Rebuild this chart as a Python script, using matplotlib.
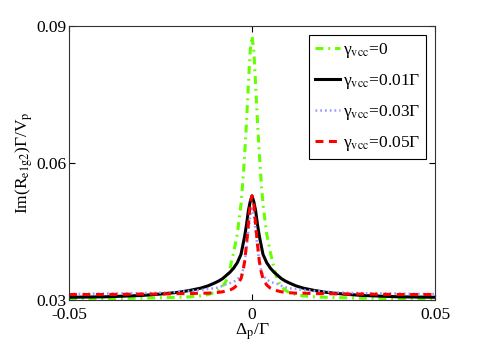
import numpy as np
import matplotlib
matplotlib.use('Agg')
import matplotlib.pyplot as plt

plt.rcParams['font.family'] = ['Liberation Serif', 'DejaVu Serif']
plt.rcParams['mathtext.fontset'] = 'stix'

# half profiles (|detuning|, symmetric about 0)
dx_half = [0, 0.0005, 0.001, 0.0015, 0.002, 0.0025, 0.003, 0.004, 0.005, 0.006,
           0.007, 0.008, 0.009, 0.010, 0.012, 0.014, 0.017, 0.020, 0.025, 0.030,
           0.040, 0.050]
g0_half = [0.0878, 0.0845, 0.0770, 0.0690, 0.0620, 0.0560, 0.0510, 0.0445, 0.0405, 0.0370,
           0.0343, 0.0330, 0.0322, 0.0317, 0.0312, 0.0309, 0.0307, 0.0306, 0.0305, 0.0304,
           0.0303, 0.0303]
g01_half = [0.0528, 0.0515, 0.0495, 0.0465, 0.0440, 0.0420, 0.0400, 0.0382, 0.0370, 0.0361,
            0.0354, 0.0347, 0.0342, 0.0338, 0.0331, 0.0326, 0.0321, 0.0317, 0.0313, 0.0310,
            0.0307, 0.0306]
g03_half = [0.0500, 0.0485, 0.0450, 0.0415, 0.0385, 0.0365, 0.0354, 0.0345, 0.0340, 0.0337,
            0.0335, 0.0331, 0.0328, 0.0326, 0.0324, 0.0322, 0.0320, 0.0318, 0.0316, 0.0315,
            0.0314, 0.0313]
g05_half = [0.0528, 0.0510, 0.0465, 0.0422, 0.0385, 0.0362, 0.0347, 0.0333, 0.0326, 0.0322,
            0.0320, 0.0318, 0.0317, 0.0316, 0.0315, 0.0315, 0.0314, 0.0314, 0.0313, 0.0313,
            0.0312, 0.0312]


def mirror(h):
    h = np.array(h)
    return np.concatenate([h[:0:-1], h])


x = np.concatenate([-np.array(dx_half)[:0:-1], np.array(dx_half)])

fig = plt.figure(figsize=(4.8, 3.55), dpi=100)
ax = fig.add_axes([69/480, 1-300/355, (435-69)/480, (300-26)/355])

ax.plot(x, mirror(g0_half), color='#66ff00', lw=2.2, dashes=(2.6, 1.6, 0.6, 1.6),
        label=r'γ$_{\rm vcc}$=0')
ax.plot(x, mirror(g01_half), '-', color='black', lw=2.2, label=r'γ$_{\rm vcc}$=0.01Γ')
ax.plot(x, mirror(g03_half), color='#9999ff', lw=1.8, dashes=(0.7, 1.2),
        label=r'γ$_{\rm vcc}$=0.03Γ')
ax.plot(x, mirror(g05_half), color='red', lw=2.2, dashes=(2.6, 1.8),
        label=r'γ$_{\rm vcc}$=0.05Γ')

ax.set_xlim(-0.05, 0.05)
ax.set_ylim(0.03, 0.09)
ax.set_xticks([-0.05, 0, 0.05])
ax.set_xticklabels(['-0.05', '0', '0.05'])
ax.set_yticks([0.03, 0.06, 0.09])
ax.set_yticklabels(['0.03', '0.06', '0.09'])
ax.tick_params(direction='in', top=True, right=True, labelsize=12.5, length=4, pad=2)
ax.tick_params(axis='x', pad=5)
for s in ax.spines.values():
    s.set_color('#333333')
    s.set_linewidth(0.8)

ax.set_xlabel(r'Δ$_{\rm p}$/Γ', fontsize=12.5, labelpad=-1)
ax.set_ylabel(r'Im(R$_{\rm e1g2}$)Γ/V$_{\rm p}$', fontsize=12.5, labelpad=1)

leg = ax.legend(loc='upper right', fontsize=12.5, fancybox=False, framealpha=1,
                edgecolor='black', handlelength=1.45, handletextpad=0.15,
                borderpad=0.35, labelspacing=0.7, borderaxespad=0.5)
leg.get_frame().set_linewidth(0.8)

fig.savefig('out.png', dpi=100)
